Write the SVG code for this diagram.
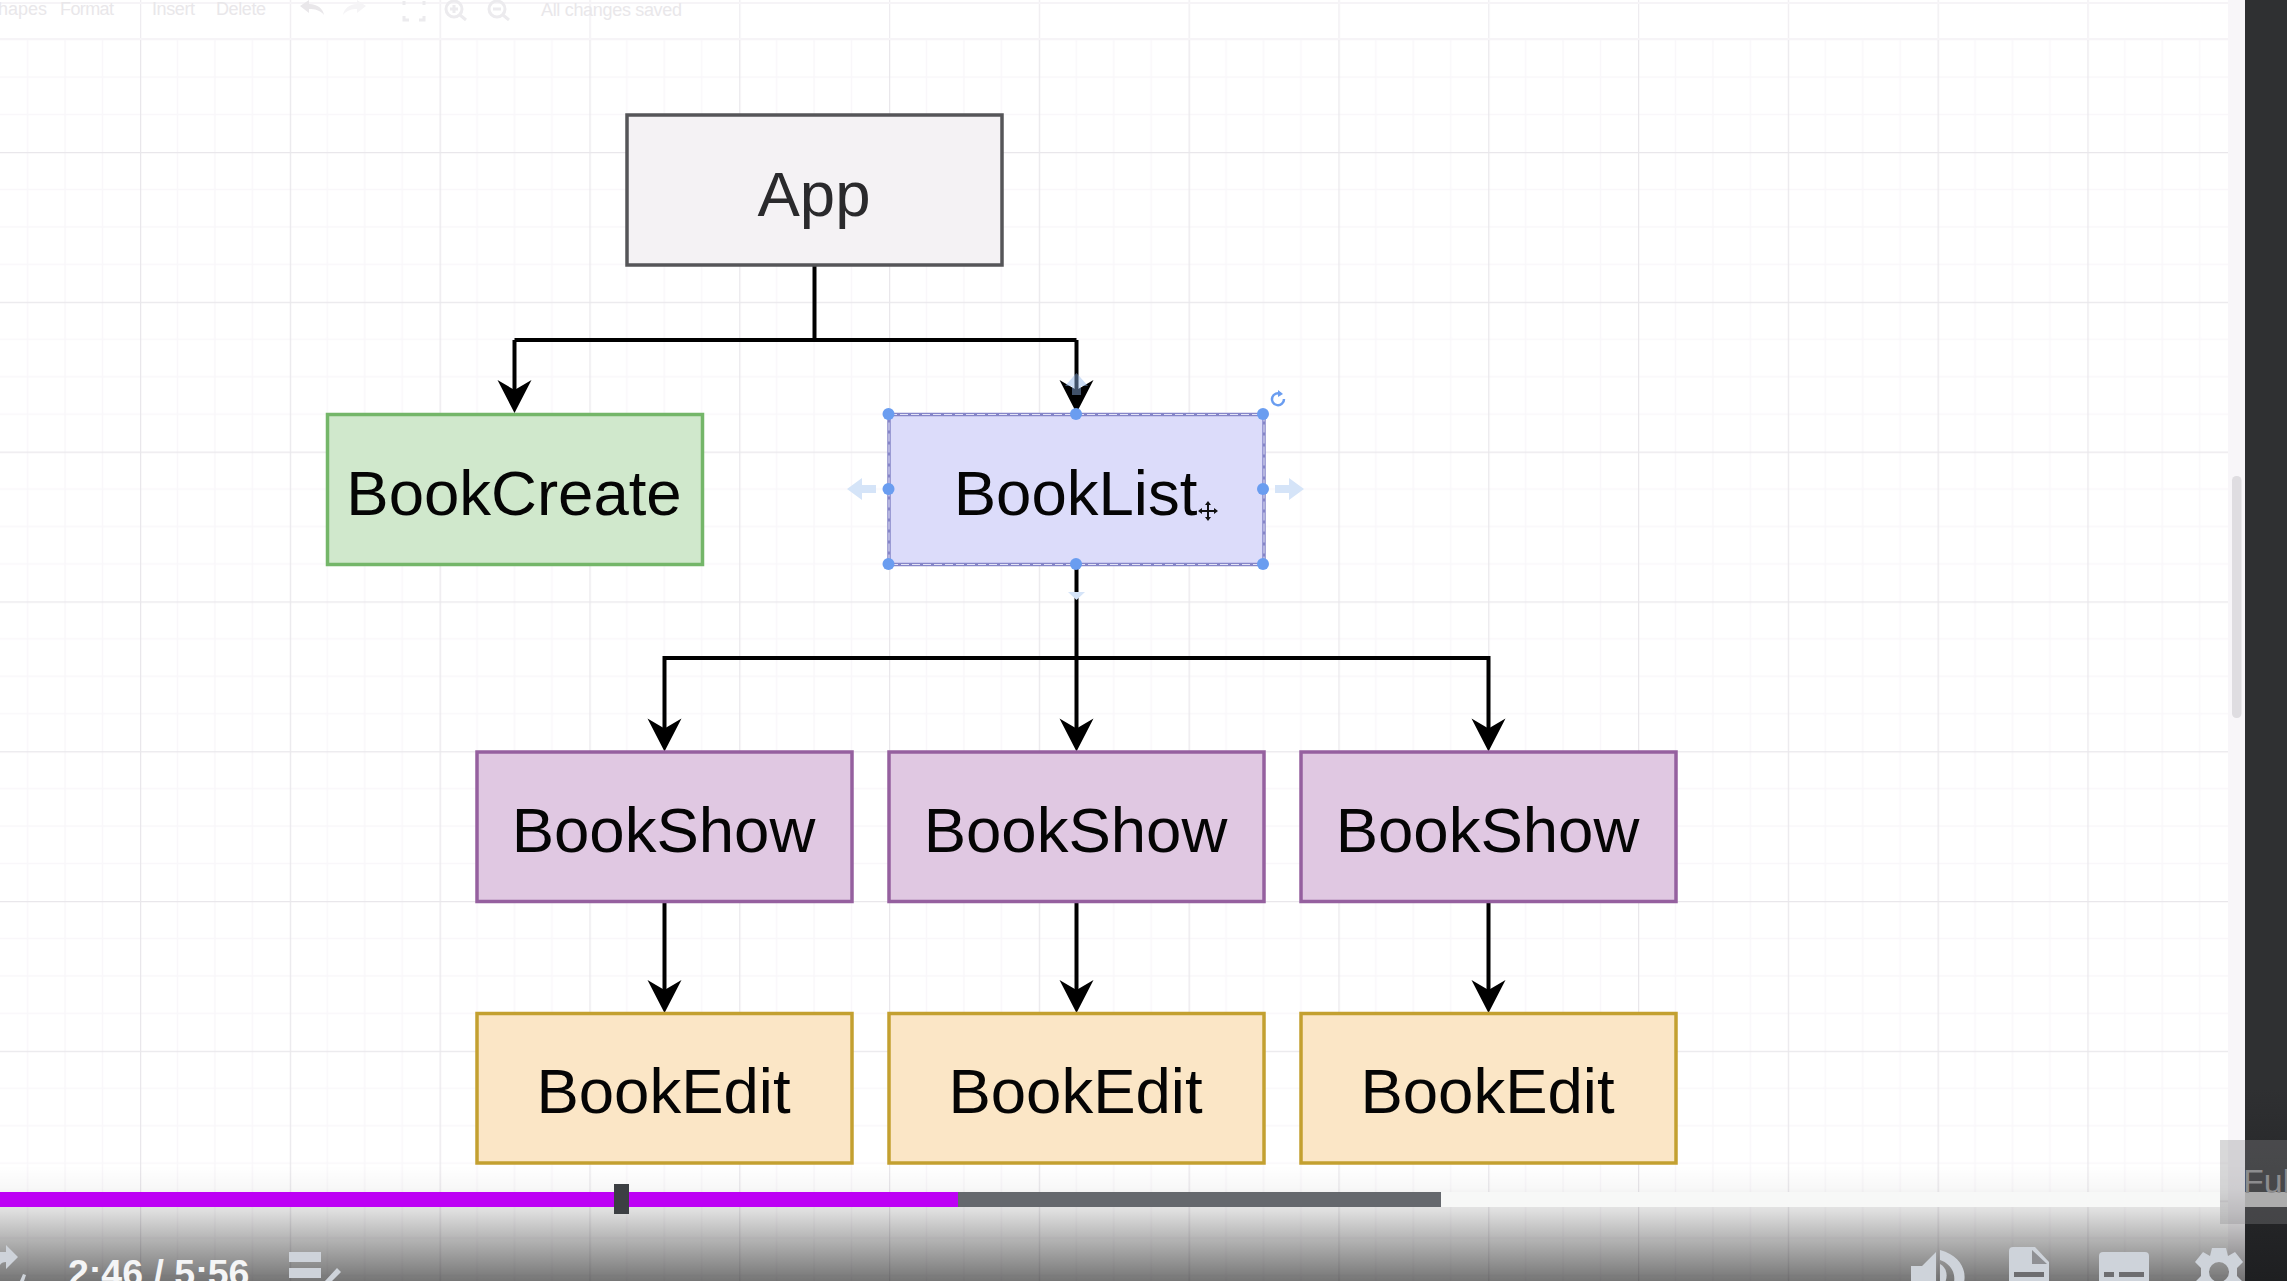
<svg xmlns="http://www.w3.org/2000/svg" width="2287" height="1281" viewBox="0 0 2287 1281">
<style>
text{font-family:"Liberation Sans",Arial,sans-serif}
.n{stroke-width:3.5}
.t{font-size:63.500px;text-anchor:middle;fill:#050505}
.c{fill:none;stroke:#000;stroke-width:4}
.tb{font-size:18px;fill:#e9e7ea}
.tbi{fill:none;stroke:#ecebee;stroke-width:3}
.h{fill:#6a9df0}
.fa{fill:#d5e4f8}
.ic{fill:#ced3da}
</style>
<defs>
<pattern id="grid" patternUnits="userSpaceOnUse" x="140" y="152" width="149.8" height="149.8">
<path d="M37.45 0V149.8M74.9 0V149.8M112.35 0V149.8M0 37.45H149.8M0 74.9H149.8M0 112.35H149.8" stroke="#f9f7fa" stroke-width="1.5" fill="none"/>
<path d="M0 0V149.8M0 0H149.8" stroke="#e9e7eb" stroke-width="2.5" fill="none"/>
</pattern>
<pattern id="gridTop" patternUnits="userSpaceOnUse" x="140" y="0" width="149.8" height="39">
<path d="M0 0V39" stroke="#eeecf0" stroke-width="2.5" fill="none"/>
</pattern>
<linearGradient id="shade" x1="0" y1="0" x2="0" y2="1">
<stop offset="0" stop-color="#000" stop-opacity="0"/>
<stop offset=".2" stop-color="#000" stop-opacity=".03"/>
<stop offset=".4" stop-color="#000" stop-opacity=".13"/>
<stop offset="1" stop-color="#000" stop-opacity=".54"/>
</linearGradient>
<linearGradient id="side" x1="0" y1="0" x2="0" y2="1">
<stop offset="0" stop-color="#2f3032"/>
<stop offset=".85" stop-color="#2f3032"/>
<stop offset="1" stop-color="#1e1f21"/>
</linearGradient>
<marker id="arrow" markerUnits="userSpaceOnUse" markerWidth="36" markerHeight="36" refX="22" refY="17" orient="auto" overflow="visible">
<path d="M33 17L0 0L10 17L0 34Z" fill="#000"/>
</marker>
</defs>

<g id="canvas">
<rect width="2287" height="1281" fill="#fff"/>
<rect x="0" y="39" width="2228" height="1242" fill="url(#grid)"/>
<rect x="0" y="0" width="2228" height="39" fill="url(#gridTop)"/>
<path d="M0 3H2228M0 39H2228" stroke="#f6f4f7" stroke-width="2" fill="none"/>
</g>

<g id="toolbar">
<text class="tb" x="-2" y="15">hapes</text>
<text class="tb" x="60" y="15" textLength="54">Format</text>
<text class="tb" x="152" y="15" textLength="43">Insert</text>
<text class="tb" x="216" y="15" textLength="50">Delete</text>
<text class="tb" x="541" y="16" textLength="141">All changes saved</text>
<path d="M300 6L309 0V4C318 4 323 9 324 15C320 10 315 9 309 9V13Z" fill="#e9e7ea"/>
<path d="M366 6L357 0V4C349 4 344 9 343 15C347 10 352 9 357 9V13Z" fill="#f5f4f6"/>
<path class="tbi" d="M404 5V1M424 1V5M404 16V20H409M419 20H424V16"/>
<circle class="tbi" cx="454" cy="9" r="8"/><path class="tbi" d="M460 15L466 20M450 9H458M454 5V13"/>
<circle class="tbi" cx="497" cy="9" r="8"/><path class="tbi" d="M503 15L509 20M493 9H501"/>
</g>

<g id="connectors">
<path class="c" d="M814.5 265V340"/>
<path class="c" d="M514.500 340H1076.500"/>
<path class="c" d="M514.500 340V402" marker-end="url(#arrow)"/>
<path class="c" d="M1076.500 340V402" marker-end="url(#arrow)"/>
<path class="c" d="M1076.500 564V740.500" marker-end="url(#arrow)"/>
<path class="c" d="M1076.500 658H664.500V740.500" marker-end="url(#arrow)"/>
<path class="c" d="M1076.500 658H1488.500V740.500" marker-end="url(#arrow)"/>
<path class="c" d="M664.500 901V1002" marker-end="url(#arrow)"/>
<path class="c" d="M1076.500 901V1002" marker-end="url(#arrow)"/>
<path class="c" d="M1488.500 901V1002" marker-end="url(#arrow)"/>
</g>

<g id="node-app"><rect class="n" x="627" y="115" width="375" height="150" fill="#f4f2f4" stroke="#555558"/><text class="t" x="814" y="216" style="fill:#2a2a2c">App</text></g>
<g id="node-bookcreate"><rect class="n" x="327.500" y="414.500" width="375" height="150" fill="#d0e8cc" stroke="#74b669"/><text class="t" x="514" y="515">BookCreate</text></g>
<g id="node-booklist"><rect class="n" x="889" y="414.500" width="375" height="150" fill="#dcdcfa" stroke="#8585c8"/>
<rect x="889" y="414.500" width="375" height="150" fill="none" stroke="#e4e4f6" stroke-width="1" stroke-dasharray="8 3"/>
<text class="t" x="1075.500" y="515">BookList</text>
<g id="selection">
<path class="fa" d="M847 489L862 478V485H876V493H862V500Z"/>
<path class="fa" d="M1304 489L1289 478V485H1275V493H1289V500Z"/>
<path d="M1076.500 373L1065 386H1072V395H1081V386H1088Z" fill="#8fb4e8" opacity=".45"/>
<path class="fa" d="M1076.500 600L1068 592H1085Z"/>
<circle class="h" cx="888.500" cy="414" r="6"/><circle class="h" cx="1076" cy="414" r="6"/><circle class="h" cx="1263" cy="414" r="6"/>
<circle class="h" cx="888.500" cy="489" r="6"/><circle class="h" cx="1263" cy="489" r="6"/>
<circle class="h" cx="888.500" cy="564" r="6"/><circle class="h" cx="1076" cy="564" r="6"/><circle class="h" cx="1263" cy="564" r="6"/>
<path d="M1281 394A6 6 0 1 0 1284 399" fill="none" stroke="#6a9df0" stroke-width="2.500"/><path d="M1278 390L1283 394L1278 397Z" fill="#6a9df0"/>
<path d="M1208 503V519M1200 511H1216" stroke="#111" stroke-width="2"/><path d="M1208 501L1205 505H1211ZM1208 521L1205 517H1211ZM1198 511L1202 508V514ZM1218 511L1214 508V514Z" fill="#111"/>
</g></g>
<g id="node-bookshow-1"><rect class="n" x="477" y="752" width="375" height="149.500" fill="#e0c8e2" stroke="#95609f"/><text class="t" x="663.500" y="852">BookShow</text></g>
<g id="node-bookshow-2"><rect class="n" x="889" y="752" width="375" height="149.500" fill="#e0c8e2" stroke="#95609f"/><text class="t" x="1075.500" y="852">BookShow</text></g>
<g id="node-bookshow-3"><rect class="n" x="1301" y="752" width="375" height="149.500" fill="#e0c8e2" stroke="#95609f"/><text class="t" x="1487.500" y="852">BookShow</text></g>
<g id="node-bookedit-1"><rect class="n" x="477" y="1013.500" width="375" height="149.500" fill="#fbe6c6" stroke="#c3a030"/><text class="t" x="663.500" y="1113">BookEdit</text></g>
<g id="node-bookedit-2"><rect class="n" x="889" y="1013.500" width="375" height="149.500" fill="#fbe6c6" stroke="#c3a030"/><text class="t" x="1075.500" y="1113">BookEdit</text></g>
<g id="node-bookedit-3"><rect class="n" x="1301" y="1013.500" width="375" height="149.500" fill="#fbe6c6" stroke="#c3a030"/><text class="t" x="1487.500" y="1113">BookEdit</text></g>

<g id="page-chrome">
<rect x="2228" y="0" width="17" height="1281" fill="#f8f6f9"/>
<rect x="2232" y="476" width="9.500" height="242" rx="4.500" fill="#dfdde1"/>
<rect x="2245" y="0" width="42" height="1281" fill="url(#side)"/>
</g>

<g id="player">
<rect x="0" y="1165" width="2245" height="116" fill="url(#shade)"/>
<rect x="1441" y="1192" width="779" height="15" fill="#f7f8f7"/>
<rect x="0" y="1192" width="958" height="15" fill="#bd00f5"/>
<rect x="958" y="1192" width="483" height="15" fill="#65686d"/>
<rect x="614" y="1184" width="15" height="30" fill="#3c3f43"/>
<rect x="2220" y="1140" width="67" height="84" fill="#8a8a8c" opacity=".33"/>
<rect x="2245" y="1192" width="42" height="15" fill="#adadad"/>
<text x="2243" y="1193" style="font-size:34px;fill:#8c8c8e">Full</text>
<path class="ic" d="M6 1245L18 1257L6 1269V1262C3 1262 1 1263 0 1265V1252C2 1252 4 1252 6 1252ZM20 1281L23 1274L26 1275L24 1281Z"/>
<text x="68" y="1286" style="font-size:37.500px;font-weight:700;fill:#f4f5f6">2:46 / 5:56</text>
<path class="ic" d="M289 1252H321V1262H289ZM289 1268H321V1278H289ZM325 1281L337 1268L341 1272L332 1281Z"/>
<path class="ic" d="M1911 1266H1922L1936 1252V1285H1911Z"/>
<path d="M1940 1250C1968 1258 1968 1281 1960 1291L1950 1291C1958 1281 1955 1265 1940 1260Z" fill="#ced3da"/>
<path d="M1940 1264C1948 1268 1948 1279 1944 1284H1940Z" fill="#ced3da"/>
<path class="ic" d="M2013 1247H2035L2049 1262V1285H2009V1251Q2009 1247 2013 1247Z"/>
<path d="M2032 1250L2047 1264H2032Z" fill="#8f9094"/>
<rect x="2014" y="1272" width="30" height="5" fill="#6d6d70"/>
<path class="ic" d="M2103 1252H2145Q2149 1252 2149 1256V1285H2099V1256Q2099 1252 2103 1252Z"/>
<path d="M2104 1272H2114V1277H2104ZM2119 1272H2144V1277H2119Z" fill="#6d6d70"/>
<path class="ic" fill-rule="evenodd" d="M2212 1248H2226L2228 1256L2235 1252L2243 1262L2237 1268V1276L2243 1282H2195L2201 1276V1268L2195 1262L2203 1252L2210 1256ZM2229 1272A10 10 0 1 0 2209 1272A10 10 0 1 0 2229 1272Z"/>
</g>
</svg>
